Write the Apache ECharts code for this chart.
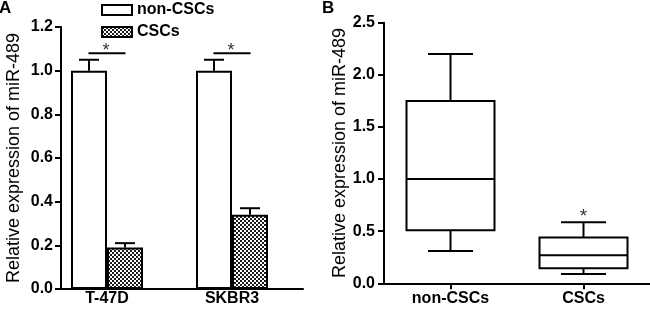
<!DOCTYPE html>
<html>
<head>
<meta charset="utf-8">
<script src="https://cdn.jsdelivr.net/npm/echarts@6/dist/echarts.min.js"></script>
<style>html,body{margin:0;padding:0;background:#fff}#c{width:650px;height:310px}</style>
</head>
<body>
<div id="c"></div>
<script>
// ---- Panel A data ----
const categoriesA = ['T-47D', 'SKBR3'];
const nonCSCsMean = [1.0, 1.0];
const nonCSCsErr = [0.05, 0.05];
const cscsMean = [0.19, 0.34];
const cscsErr = [0.02, 0.03];
const sigLineA = [1.08, 1.08];
const yTicksA = [0, 0.2, 0.4, 0.6, 0.8, 1.0, 1.2];

// ---- Panel B data: [min, Q1, median, Q3, max] ----
const categoriesB = ['non-CSCs', 'CSCs'];
const boxNonCSCs = [0.31, 0.51, 1.0, 1.75, 2.2];
const boxCSCs = [0.09, 0.145, 0.27, 0.44, 0.585];
const starB = [null, 0.675];
const yTicksB = [0, 0.5, 1.0, 1.5, 2.0, 2.5];

const FONT = '"Liberation Sans", Arial, sans-serif';
const BAR_W = 36;

// checkerboard pattern
const pc = document.createElement('canvas');
pc.width = 4; pc.height = 4;
const pctx = pc.getContext('2d');
pctx.fillStyle = '#fff'; pctx.fillRect(0, 0, 4, 4);
pctx.fillStyle = '#1a1a1a'; pctx.fillRect(0, 0, 2, 2); pctx.fillRect(2, 2, 2, 2);
const checker = { image: pc, repeat: 'repeat' };

const chart = echarts.init(document.getElementById('c'), null, { renderer: 'canvas' });

function errRender(offset) {
  return function (params, api) {
    const i = api.value(0), m = api.value(1), e = api.value(2);
    const p0 = api.coord([i, m]);
    const p1 = api.coord([i, m + e]);
    const cx = p0[0] + offset;
    const st = { stroke: '#000', lineWidth: 2 };
    return { type: 'group', children: [
      { type: 'line', shape: { x1: cx, y1: p0[1], x2: cx, y2: p1[1] }, style: st },
      { type: 'line', shape: { x1: cx - 10, y1: p1[1], x2: cx + 10, y2: p1[1] }, style: st }
    ]};
  };
}

function sigRender(params, api) {
  const i = api.value(0), v = api.value(1);
  const p = api.coord([i, v]);
  return { type: 'group', children: [
    { type: 'line', shape: { x1: p[0] - 18.5, y1: p[1], x2: p[0] + 18.5, y2: p[1] }, style: { stroke: '#000', lineWidth: 2 } },
    { type: 'text', x: p[0] - 1, y: p[1] - 2, style: { text: '*', font: '18px ' + FONT, fill: '#333', align: 'center', verticalAlign: 'middle' } }
  ]};
}

function boxRender(params, api) {
  const i = api.value(0);
  const mn = api.coord([i, api.value(1)]);
  const q1 = api.coord([i, api.value(2)]);
  const md = api.coord([i, api.value(3)]);
  const q3 = api.coord([i, api.value(4)]);
  const mx = api.coord([i, api.value(5)]);
  const cx = mn[0];
  const hw = 44, cw = 22.5;
  const st = { stroke: '#000', lineWidth: 2, fill: null };
  return { type: 'group', children: [
    { type: 'line', shape: { x1: cx, y1: q3[1], x2: cx, y2: mx[1] }, style: st },
    { type: 'line', shape: { x1: cx - cw, y1: mx[1], x2: cx + cw, y2: mx[1] }, style: st },
    { type: 'line', shape: { x1: cx, y1: q1[1], x2: cx, y2: mn[1] }, style: st },
    { type: 'line', shape: { x1: cx - cw, y1: mn[1], x2: cx + cw, y2: mn[1] }, style: st },
    { type: 'rect', shape: { x: cx - hw, y: q3[1], width: 2 * hw, height: q1[1] - q3[1] }, style: { stroke: '#000', lineWidth: 2, fill: '#fff' } },
    { type: 'line', shape: { x1: cx - hw, y1: md[1], x2: cx + hw, y2: md[1] }, style: st }
  ]};
}

function starRender(params, api) {
  const p = api.coord([api.value(0), api.value(1)]);
  return { type: 'text', x: p[0], y: p[1] + 4, style: { text: '*', font: '19px ' + FONT, fill: '#333', align: 'center', verticalAlign: 'middle' } };
}

const labelFmt = v => v.toFixed(1);
const axisLineStyle = { show: true, lineStyle: { color: '#000', width: 2 } };
const tickLabel = { color: '#000', fontFamily: FONT, fontWeight: 'bold', fontSize: 16 };
const nameStyle = { color: '#000', fontFamily: FONT, fontSize: 18 };

const option = {
  animation: false,
  backgroundColor: '#fff',
  title: [
    { text: 'A', left: -1, top: 0, padding: 0, textStyle: { fontFamily: FONT, fontWeight: 'bold', fontSize: 17, color: '#000' } },
    { text: 'B', left: 322, top: 0, padding: 0, textStyle: { fontFamily: FONT, fontWeight: 'bold', fontSize: 17, color: '#000' } }
  ],
  legend: {
    data: ['non-CSCs', 'CSCs'],
    orient: 'vertical',
    left: 101, top: 2,
    padding: 0,
    itemWidth: 30, itemHeight: 10,
    itemGap: 6,
    icon: 'rect',
    textStyle: { fontFamily: FONT, fontWeight: 'bold', fontSize: 16, color: '#000', padding: [0, 0, 0, 0] }
  },
  grid: [
    { left: 61, top: 27, width: 242, height: 262 },
    { left: 44.5, top: 27, width: 250, height: 262 },
    { left: 384, top: 22.7, width: 266, height: 260.6 }
  ],
  xAxis: [
    { gridIndex: 0, type: 'category', data: categoriesA, axisLine: axisLineStyle, axisTick: { show: false }, axisLabel: { show: false } },
    { gridIndex: 1, type: 'category', data: categoriesA, axisLine: { show: false }, axisTick: { show: false },
      axisLabel: Object.assign({ margin: 2 }, tickLabel) },
    { gridIndex: 2, type: 'category', data: categoriesB, axisLine: axisLineStyle,
      axisTick: { show: true, alignWithLabel: true, length: 6, lineStyle: { color: '#000', width: 2 } },
      axisLabel: Object.assign({ margin: 7 }, tickLabel) }
  ],
  yAxis: [
    { gridIndex: 0, type: 'value', min: yTicksA[0], max: yTicksA[yTicksA.length - 1], interval: 0.2,
      axisLine: axisLineStyle, axisTick: { show: true, length: 6, lineStyle: { color: '#000', width: 2 } },
      splitLine: { show: false }, axisLabel: Object.assign({ margin: 8, formatter: labelFmt }, tickLabel),
      name: 'Relative expression of miR-489', nameLocation: 'middle', nameGap: 38, nameTextStyle: nameStyle },
    { gridIndex: 1, type: 'value', min: yTicksA[0], max: yTicksA[yTicksA.length - 1], show: false, splitLine: { show: false } },
    { gridIndex: 2, type: 'value', min: yTicksB[0], max: yTicksB[yTicksB.length - 1], interval: 0.5,
      axisLine: axisLineStyle, axisTick: { show: true, length: 6, lineStyle: { color: '#000', width: 2 } },
      splitLine: { show: false }, axisLabel: Object.assign({ margin: 9, formatter: labelFmt }, tickLabel),
      name: 'Relative expression of miR-489', nameLocation: 'middle', nameGap: 34, nameTextStyle: nameStyle }
  ],
  series: [
    { name: 'non-CSCs', type: 'bar', xAxisIndex: 1, yAxisIndex: 1, data: nonCSCsMean, barWidth: BAR_W, barGap: '0%',
      itemStyle: { color: '#fff', borderColor: '#000', borderWidth: 2 } },
    { name: 'CSCs', type: 'bar', xAxisIndex: 1, yAxisIndex: 1, data: cscsMean, barWidth: BAR_W, barGap: '0%',
      itemStyle: { color: checker, borderColor: '#000', borderWidth: 2 } },
    { type: 'custom', xAxisIndex: 1, yAxisIndex: 1, renderItem: errRender(-BAR_W / 2), z: 3,
      data: categoriesA.map((c, i) => [i, nonCSCsMean[i], nonCSCsErr[i]]) },
    { type: 'custom', xAxisIndex: 1, yAxisIndex: 1, renderItem: errRender(BAR_W / 2), z: 3,
      data: categoriesA.map((c, i) => [i, cscsMean[i], cscsErr[i]]) },
    { type: 'custom', xAxisIndex: 1, yAxisIndex: 1, renderItem: sigRender, z: 3,
      data: categoriesA.map((c, i) => [i, sigLineA[i]]) },
    { type: 'custom', xAxisIndex: 2, yAxisIndex: 2, renderItem: boxRender, z: 3,
      data: [[0].concat(boxNonCSCs), [1].concat(boxCSCs)] },
    { type: 'custom', xAxisIndex: 2, yAxisIndex: 2, renderItem: starRender, z: 3,
      data: starB.map((v, i) => v === null ? null : [i, v]).filter(d => d) }
  ]
};
chart.setOption(option);
</script>
</body>
</html>
